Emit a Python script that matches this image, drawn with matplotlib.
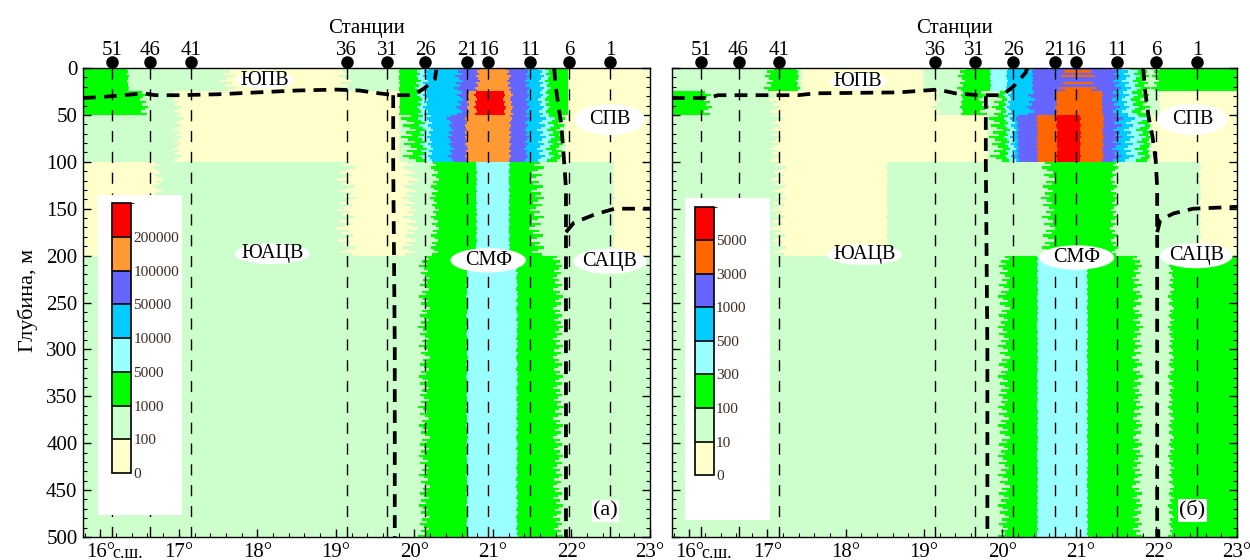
import numpy as np
import matplotlib
matplotlib.use("Agg")
import matplotlib.pyplot as plt
from matplotlib.colors import ListedColormap, BoundaryNorm
from matplotlib.cm import ScalarMappable
from matplotlib.patches import Ellipse, Rectangle

plt.rcParams['font.family'] = ['Liberation Serif', 'DejaVu Serif']

# stations along the section: number and latitude (deg N)
station_num = ['51', '46', '41', '36', '31', '26', '21', '16', '11', '6', '1']
station_lat = [16.15, 16.63, 17.15, 19.14, 19.65, 20.14, 20.67, 20.94, 21.47, 21.97, 22.49]

# sampled layers, m
layer_bottom = [25, 50, 100, 200, 500]

# (а) abundance classes
levels_a = [0, 100, 1000, 5000, 10000, 50000, 100000, 200000, 400000]
colors_a = ['#FFFFCC', '#CCFFCC', '#00FF00', '#99FFFF', '#00CCFF', '#6666FF', '#FF9933', '#FF0000']

# (б) abundance classes
levels_b = [0, 10, 100, 300, 500, 1000, 3000, 5000, 8000]
colors_b = ['#FFFFCC', '#CCFFCC', '#00FF00', '#99FFFF', '#00CCFF', '#6666FF', '#FF6600', '#FF0000']

# (а) gridded abundance along each layer: latitude nodes and values
lat_a = [
    [15.78, 16.34, 16.36, 17.50, 17.75, 19.00, 19.22, 19.80, 19.82, 20.00, 20.18, 20.50,
     20.63, 20.77, 20.84, 21.17, 21.24, 21.40, 21.48, 21.58, 21.74, 21.95, 21.97, 23.0],
    [15.78, 16.50, 16.62, 16.92, 17.05, 19.80, 19.82, 20.02, 20.18, 20.52, 20.62, 20.66, 20.70,
     20.76, 20.80, 21.13, 21.17, 21.22, 21.26, 21.42, 21.48, 21.58, 21.74, 21.95, 21.97, 23.0],
    [15.78, 16.92, 17.05, 19.80, 19.82, 20.04, 20.16, 20.24, 20.42, 20.50, 20.64, 20.68,
     21.20, 21.24, 21.40, 21.46, 21.56, 21.92, 21.94, 23.0],
    [15.78, 16.66, 16.80, 19.00, 19.25, 19.85, 20.05, 20.20, 20.32, 20.78, 20.80, 21.20,
     21.22, 21.46, 21.66, 22.53, 22.55, 23.0],
    [15.78, 20.05, 20.20, 20.66, 20.68, 21.30, 21.32, 21.76, 21.90, 23.0],
]
abund_a = [
    [3000, 3000, 550, 550, 50, 50, 550, 550, 3000, 3000, 30000, 30000,
     75000, 75000, 150000, 150000, 75000, 75000, 30000, 30000, 3000, 3000, 50, 50],
    [3000, 3000, 550, 550, 50, 50, 3000, 3000, 30000, 30000, 75000, 75000, 150000,
     150000, 300000, 300000, 150000, 150000, 75000, 75000, 30000, 30000, 3000, 3000, 50, 50],
    [550, 550, 50, 50, 550, 3000, 7500, 30000, 30000, 75000, 75000, 150000,
     150000, 75000, 75000, 30000, 30000, 550, 50, 50],
    [50, 50, 550, 550, 50, 50, 550, 550, 3000, 3000, 7500, 7500,
     3000, 3000, 550, 550, 50, 50],
    [550, 550, 3000, 3000, 7500, 7500, 3000, 3000, 550, 550],
]

# (б) gridded abundance along each layer
lat_b = [
    [15.78, 16.95, 17.08, 17.36, 17.46, 18.98, 19.00, 19.42, 19.54, 19.84, 19.86, 20.05,
     20.07, 20.38, 20.40, 20.72, 20.82, 21.12, 21.22, 21.40, 21.78, 21.90, 22.02, 23.0],
    [15.78, 16.18, 16.30, 17.02, 17.18, 19.08, 19.22, 19.46, 19.50, 19.70, 19.85, 20.00, 20.12,
     20.30, 20.42, 20.68, 20.70, 21.27, 21.29, 21.40, 21.76, 21.90, 22.00, 22.02, 23.0],
    [15.78, 17.02, 17.18, 19.80, 19.82, 20.02, 20.18, 20.22, 20.44, 20.46, 20.69, 20.71,
     20.99, 21.01, 21.28, 21.30, 21.40, 21.85, 21.90, 21.93, 23.0],
    [15.78, 17.04, 17.24, 18.52, 18.54, 20.50, 20.68, 21.38, 21.48, 22.52, 22.54, 23.0],
    [15.78, 19.94, 20.10, 20.44, 20.46, 21.08, 21.10, 21.66, 21.80, 22.12, 22.20, 23.0],
]
abund_b = [
    [55, 55, 200, 200, 5, 5, 55, 55, 200, 200, 400, 400,
     750, 750, 2000, 2000, 3000, 3000, 2000, 2000, 200, 55, 200, 200],
    [200, 200, 55, 55, 5, 5, 55, 55, 200, 200, 55, 200, 750,
     750, 2000, 2000, 4000, 4000, 2000, 2000, 200, 55, 55, 5, 5],
    [55, 55, 5, 5, 55, 200, 750, 2000, 2000, 4000, 4000, 6500,
     6500, 4000, 4000, 2000, 2000, 200, 55, 5, 5],
    [55, 55, 5, 5, 55, 55, 200, 200, 55, 55, 5, 5],
    [55, 55, 200, 200, 400, 400, 200, 200, 55, 55, 200, 200],
]

# water mass boundaries (lat, depth)
front_a = [
    ([15.78, 16.0, 16.3, 16.55, 16.7, 17.0, 17.5, 18.0, 18.5, 19.0, 19.3, 19.55, 19.75, 19.98, 20.12, 20.26, 20.28],
     [32, 31, 29, 27, 29, 29, 28, 26, 24, 23, 24, 27, 29, 29, 22, 12, 2]),
    ([19.73, 19.73, 19.75, 19.75], [29, 100, 300, 500]),
    ([21.78, 21.80, 21.83, 21.87, 21.89, 21.91, 21.93, 21.93, 21.93], [0, 20, 38, 60, 82, 104, 129, 172, 500]),
    ([21.93, 22.03, 22.3, 22.55, 23.0], [175, 165, 156, 150, 150]),
]
front_b = [
    ([15.78, 16.24, 16.37, 17.39, 17.61, 18.67, 19.18, 19.4, 19.7, 20.0, 20.14, 20.3, 20.32],
     [32, 32, 29, 29, 27, 26, 23, 27, 29, 29, 20, 5, 0]),
    ([19.79, 19.79, 19.81, 19.81], [30, 100, 300, 500]),
    ([21.80, 21.83, 21.87, 21.92, 21.96, 21.98, 21.98], [0, 27, 52, 73, 98, 127, 500]),
    ([21.98, 22.02, 22.19, 22.44, 23.0], [175, 162, 155, 150, 148]),
]

# water mass names: text, lat, depth, ellipse width (deg), ellipse height (m)
names_a = [('ЮПВ', 18.10, 13, 0.73, 19), ('СПВ', 22.49, 55, 0.90, 33),
           ('ЮАЦВ', 18.19, 198, 0.96, 22), ('СМФ', 20.94, 205, 0.96, 26),
           ('САЦВ', 22.49, 206, 0.93, 27)]
names_b = [('ЮПВ', 18.16, 14, 0.73, 19), ('СПВ', 22.43, 55, 0.90, 33),
           ('ЮАЦВ', 18.24, 199, 0.96, 22), ('СМФ', 20.95, 202, 0.96, 26),
           ('САЦВ', 22.48, 200, 0.93, 27)]

x_min, x_max = 15.78, 23.0


def draw_field(ax, lat_nodes, val_nodes, levels, colors):
    lat = np.linspace(x_min, x_max, 1444)
    dep = np.arange(0, 500, 2.5) + 1.25
    # row by row shift of the class edges -> combed edges of the gridded field
    comb = (np.arange(dep.size) * 0.618034) % 1.0 - 0.5
    field = np.zeros((dep.size, lat.size))
    for i, d in enumerate(dep):
        k = np.searchsorted(layer_bottom, d)
        c = np.interp(val_nodes[k], levels, np.arange(len(levels)))
        row = np.interp(lat, lat_nodes[k], c) + comb[i]
        field[i] = np.clip(np.floor(row), 0, len(colors) - 1)
    ax.imshow(field, cmap=ListedColormap(colors), vmin=-0.5, vmax=len(colors) - 0.5,
              extent=(x_min, x_max, 500, 0), aspect='auto', interpolation='nearest')


def draw_panel(ax, lat_nodes, val_nodes, levels, colors, fronts, names, letter,
               box, cbar, show_depth):
    draw_field(ax, lat_nodes, val_nodes, levels, colors)
    ax.set_xlim(x_min, x_max)
    ax.set_ylim(500, 0)

    # stations
    ax.vlines(station_lat, 0, 500, colors='k', lw=1, linestyles=(0, (8, 7)), zorder=3)
    ax.vlines(station_lat, -6, 0, colors='k', lw=1.2, clip_on=False, zorder=3)
    ax.plot(station_lat, [-6] * len(station_lat), 'o', color='k', ms=8, clip_on=False, zorder=4)
    for n, x in zip(station_num, station_lat):
        ax.text(x, -14, n, ha='center', va='baseline', fontsize=15, clip_on=False)
    ax.text(0.5, 1.075, 'Станции', transform=ax.transAxes, ha='center', va='baseline', fontsize=15)

    # water mass boundaries
    for flat, fdep in fronts:
        ax.plot(flat, fdep, color='k', lw=2.7, ls=(0, (3.4, 2.2)), zorder=3)

    for text, x, y, w, h in names:
        ax.add_patch(Ellipse((x, y), w, h, fc='white', ec='none', zorder=5))
        ax.text(x, y, text, ha='center', va='center', fontsize=14.5, zorder=6)

    ax.text(22.43, 472, letter, ha='center', va='center', fontsize=16, zorder=6,
            bbox=dict(fc='white', ec='none', pad=1))

    # legend
    ax.add_patch(Rectangle((box[0], box[1]), box[2], box[3], transform=ax.transAxes,
                           fc='white', ec='none', zorder=5))
    cax = ax.inset_axes(cbar)
    cax.set_zorder(6)
    norm = BoundaryNorm(levels, len(colors))
    cb = plt.colorbar(ScalarMappable(norm=norm, cmap=ListedColormap(colors)), cax=cax,
                      ticks=levels[:-1], spacing='uniform', drawedges=True)
    cb.set_ticklabels([str(v) for v in levels[:-1]])
    cb.ax.tick_params(length=0, pad=1.5, labelsize=11, labelcolor='#3d2b1f')
    cb.outline.set_linewidth(1.2)
    cb.dividers.set_linewidth(1.2)

    # axes ticks
    ax.set_xticks(range(16, 24))
    ax.set_xticklabels([f'{v}°' for v in range(16, 24)])
    ax.set_xticks(np.arange(15.8, 23.01, 0.2), minor=True)
    ax.set_yticks(range(0, 501, 50))
    ax.set_yticks(range(0, 501, 10), minor=True)
    ax.tick_params(which='both', direction='in', top=False, right=True, labelsize=15,
                   labelleft=show_depth)
    ax.tick_params(which='major', length=6, width=1, pad=4)
    ax.tick_params(which='minor', length=3, width=0.8)
    ax.annotate('с.ш.', xy=(16, 0), xycoords=('data', 'axes fraction'), xytext=(9, -15),
                textcoords='offset points', ha='left', va='baseline', fontsize=13)
    for s in ax.spines.values():
        s.set_linewidth(1)


fig = plt.figure(figsize=(12.5, 5.6), dpi=100)
ax_a = fig.add_axes([83 / 1250, 23 / 560, 567 / 1250, 469 / 560])
ax_b = fig.add_axes([672 / 1250, 23 / 560, 565 / 1250, 469 / 560])

draw_panel(ax_a, lat_a, abund_a, levels_a, colors_a, front_a, names_a, '(а)',
           [0.026, 0.047, 0.149, 0.682], [0.051, 0.136, 0.034, 0.576], True)
draw_panel(ax_b, lat_b, abund_b, levels_b, colors_b, front_b, names_b, '(б)',
           [0.023, 0.036, 0.150, 0.687], [0.041, 0.132, 0.033, 0.572], False)

fig.text(28 / 1250, 0.464, 'Глубина, м', rotation=90, ha='center', va='center', fontsize=16)

plt.savefig('out.png', dpi=100)
